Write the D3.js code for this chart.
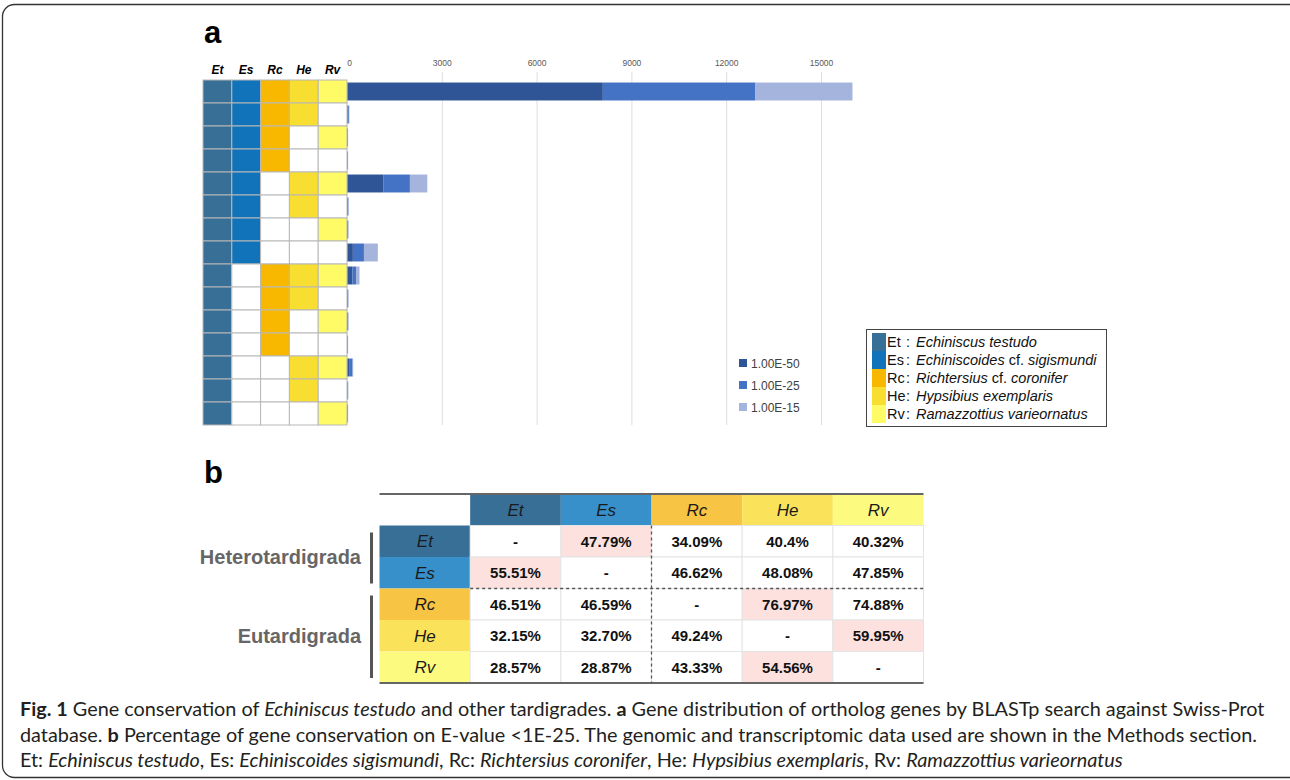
<!DOCTYPE html>
<html>
<head>
<meta charset="utf-8">
<script src="https://cdn.jsdelivr.net/npm/d3@7"></script>
<style>
  body { margin: 0; background: #fff; }
  svg { display: block; }
</style>
</head>
<body>
<script>
// species shown in the presence matrix, the legend and the table
const species = ["Et", "Es", "Rc", "He", "Rv"];
const speciesNames = ["Echiniscus testudo", "Echiniscoides cf. sigismundi", "Richtersius cf. coronifer",
  "Hypsibius exemplaris", "Ramazzottius varieornatus"];
// which species share the ortholog group in each row (1 = present)
const presence = [
  [1, 1, 1, 1, 1], [1, 1, 1, 1, 0], [1, 1, 1, 0, 1], [1, 1, 1, 0, 0],
  [1, 1, 0, 1, 1], [1, 1, 0, 1, 0], [1, 1, 0, 0, 1], [1, 1, 0, 0, 0],
  [1, 0, 1, 1, 1], [1, 0, 1, 1, 0], [1, 0, 1, 0, 1], [1, 0, 1, 0, 0],
  [1, 0, 0, 1, 1], [1, 0, 0, 1, 0], [1, 0, 0, 0, 1]
];
// gene counts per row, stacked by E-value threshold
const thresholds = ["1.00E-50", "1.00E-25", "1.00E-15"];
const e50 = [8080, 30, 10, 10, 1130, 20, 15, 170, 160, 15, 15, 10, 70, 10, 10];
const e25 = [4830, 20, 5, 5, 845, 10, 10, 350, 110, 10, 10, 5, 90, 10, 5];
const e15 = [3070, 10, 5, 5, 550, 10, 5, 440, 110, 5, 5, 5, 20, 5, 5];
const xTicks = [0, 3000, 6000, 9000, 12000, 15000];

// panel b
const groups = ["Heterotardigrada", "Eutardigrada"];
const conservation = [
  ["-", "47.79%", "34.09%", "40.4%", "40.32%"],
  ["55.51%", "-", "46.62%", "48.08%", "47.85%"],
  ["46.51%", "46.59%", "-", "76.97%", "74.88%"],
  ["32.15%", "32.70%", "49.24%", "-", "59.95%"],
  ["28.57%", "28.87%", "43.33%", "54.56%", "-"]
];
const highlighted = [[0, 1], [1, 0], [2, 3], [3, 4], [4, 3]];

const matrixColors = ["#386f96", "#1174bb", "#f8b800", "#f8de30", "#fefb66"];
const tableColors = ["#386f97", "#3890cb", "#f8c443", "#fae35b", "#fdfa80"];
const barColors = ["#2f5597", "#4472c4", "#a5b4dc"];

const W = 1290, H = 780;
const svg = d3.select("body").append("svg")
  .attr("width", W)
  .attr("height", H)
  .style("font-family", "'Liberation Sans', Arial, sans-serif");

// outer frame
svg.append("rect")
  .attr("x", 2.5).attr("y", 4.5)
  .attr("width", 1310).attr("height", 773)
  .attr("rx", 12)
  .attr("fill", "none")
  .attr("stroke", "#333")
  .attr("stroke-width", 1.3);

// ---------- panel a ----------
svg.append("text").attr("x", 204).attr("y", 43)
  .style("font-size", "31px").style("font-weight", "bold").text("a");

const rowScale = d3.scaleBand()
  .domain(d3.range(presence.length))
  .range([80, 425]);
const colScale = d3.scaleBand()
  .domain(species)
  .range([203, 347]);
const xScale = d3.scaleLinear()
  .domain([0, 16000])
  .range([347.5, 347.5 + 16000 * 0.0316]);

// grid lines and tick labels
svg.append("g").selectAll("line")
  .data(xTicks.slice(1))
  .enter().append("line")
  .attr("x1", d => xScale(d)).attr("x2", d => xScale(d))
  .attr("y1", 72).attr("y2", 425)
  .attr("stroke", "#dedede");

svg.append("g").selectAll("text")
  .data(xTicks)
  .enter().append("text")
  .attr("x", d => xScale(d) + (d === 0 ? 2 : 0))
  .attr("y", 66)
  .attr("text-anchor", "middle")
  .style("font-size", "8.5px")
  .attr("fill", "#595959")
  .text(d => d);

// column headers
svg.append("g").selectAll("text")
  .data(species)
  .enter().append("text")
  .attr("x", d => colScale(d) + colScale.bandwidth() / 2)
  .attr("y", 74)
  .attr("text-anchor", "middle")
  .style("font-size", "12px")
  .style("font-weight", "bold")
  .style("font-style", "italic")
  .text(d => d);

// presence matrix
const cells = presence.flatMap((row, r) => row.map((v, c) => ({ r, c, v })));
svg.append("g").selectAll("rect")
  .data(cells)
  .enter().append("rect")
  .attr("x", d => colScale(species[d.c]))
  .attr("y", d => rowScale(d.r))
  .attr("width", colScale.bandwidth())
  .attr("height", rowScale.bandwidth())
  .attr("fill", d => d.v ? matrixColors[d.c] : "#fff")
  .attr("stroke", "#b8b8b8")
  .attr("stroke-width", 1);

// stacked bars
const barRows = e50.map((v, i) => ({ i, e50: v, e25: e25[i], e15: e15[i] }));
const stacked = d3.stack().keys(["e50", "e25", "e15"])(barRows);
const barScale = d3.scaleBand()
  .domain(d3.range(presence.length))
  .range([80, 425])
  .paddingInner(0.22)
  .paddingOuter(0.11);

svg.append("g").selectAll("g")
  .data(stacked)
  .enter().append("g")
  .attr("fill", (d, k) => barColors[k])
  .selectAll("rect")
  .data(d => d)
  .enter().append("rect")
  .attr("x", d => xScale(d[0]))
  .attr("y", d => barScale(d.data.i))
  .attr("width", d => xScale(d[1]) - xScale(d[0]))
  .attr("height", barScale.bandwidth());

// E-value legend
const evLegend = svg.append("g").selectAll("g")
  .data(thresholds)
  .enter().append("g")
  .attr("transform", (d, i) => `translate(739, ${363 + i * 22})`);
evLegend.append("rect")
  .attr("x", 0).attr("y", -4)
  .attr("width", 8).attr("height", 8)
  .attr("fill", (d, i) => barColors[i]);
evLegend.append("text")
  .attr("x", 12).attr("y", 4.5)
  .style("font-size", "12px")
  .attr("fill", "#404040")
  .text(d => d);

// species legend
svg.append("rect")
  .attr("x", 866.5).attr("y", 329.5)
  .attr("width", 240).attr("height", 97)
  .attr("fill", "#fff")
  .attr("stroke", "#444");

const spLegend = svg.append("g").selectAll("g")
  .data(species)
  .enter().append("g")
  .attr("transform", (d, i) => `translate(872, ${333 + i * 18})`);
spLegend.append("rect")
  .attr("width", 14).attr("height", 18)
  .attr("fill", (d, i) => matrixColors[i]);
const spText = spLegend.append("text")
  .attr("x", 15).attr("y", 14)
  .style("font-size", "14.5px")
  .attr("fill", "#111");
spText.append("tspan").text(d => d);
spText.append("tspan").attr("x", 34).text(":");
spText.each(function (d, i) {
  const parts = speciesNames[i].split(" cf. ");
  const t = d3.select(this);
  t.append("tspan").attr("x", 44).style("font-style", "italic").text(parts[0]);
  if (parts.length > 1) {
    t.append("tspan").text(" cf. ");
    t.append("tspan").style("font-style", "italic").text(parts[1]);
  }
});

// ---------- panel b ----------
svg.append("text").attr("x", 204).attr("y", 483)
  .style("font-size", "31px").style("font-weight", "bold").text("b");

const tCol = d3.scaleBand().domain(d3.range(6)).range([379.5, 923.5]);
const tRow = d3.scaleBand().domain(d3.range(6)).range([494, 683]);
const cw = tCol.bandwidth(), ch = tRow.bandwidth();

// header row and row labels
const hdr = svg.append("g");
hdr.selectAll("rect.h")
  .data(species)
  .enter().append("rect")
  .attr("x", (d, i) => tCol(i + 1)).attr("y", tRow(0))
  .attr("width", cw).attr("height", ch)
  .attr("fill", (d, i) => tableColors[i]);
hdr.selectAll("rect.r")
  .data(species)
  .enter().append("rect")
  .attr("x", tCol(0)).attr("y", (d, i) => tRow(i + 1))
  .attr("width", cw).attr("height", ch)
  .attr("fill", (d, i) => tableColors[i]);
hdr.selectAll("text.h")
  .data(species)
  .enter().append("text")
  .attr("x", (d, i) => tCol(i + 1) + cw / 2).attr("y", tRow(0) + ch / 2 + 6)
  .attr("text-anchor", "middle")
  .style("font-size", "17px").style("font-style", "italic")
  .attr("fill", "#1a1a1a")
  .text(d => d);
hdr.selectAll("text.r")
  .data(species)
  .enter().append("text")
  .attr("x", tCol(0) + cw / 2).attr("y", (d, i) => tRow(i + 1) + ch / 2 + 6)
  .attr("text-anchor", "middle")
  .style("font-size", "17px").style("font-style", "italic")
  .attr("fill", "#1a1a1a")
  .text(d => d);

// value cells
const vals = conservation.flatMap((row, r) => row.map((v, c) => ({ r, c, v })));
const isHi = d => highlighted.some(h => h[0] === d.r && h[1] === d.c);
const body = svg.append("g");
body.selectAll("rect")
  .data(vals)
  .enter().append("rect")
  .attr("x", d => tCol(d.c + 1)).attr("y", d => tRow(d.r + 1))
  .attr("width", cw).attr("height", ch)
  .attr("fill", d => isHi(d) ? "#fce1de" : "#fff")
  .attr("stroke", "#e4e4e4")
  .attr("stroke-width", 1);
body.selectAll("text")
  .data(vals)
  .enter().append("text")
  .attr("x", d => tCol(d.c + 1) + cw / 2).attr("y", d => tRow(d.r + 1) + ch / 2 + 5.5)
  .attr("text-anchor", "middle")
  .style("font-size", "15px").style("font-weight", "bold")
  .attr("fill", "#111")
  .text(d => d.v);

// table rules
svg.append("line")
  .attr("x1", 379.5).attr("x2", 923.5).attr("y1", 494).attr("y2", 494)
  .attr("stroke", "#666").attr("stroke-width", 2);
svg.append("line")
  .attr("x1", 379.5).attr("x2", 923.5).attr("y1", 683).attr("y2", 683)
  .attr("stroke", "#666").attr("stroke-width", 2);
svg.append("line")
  .attr("x1", tCol(1)).attr("x2", 923.5).attr("y1", tRow(3)).attr("y2", tRow(3))
  .attr("stroke", "#555").attr("stroke-width", 1.3).attr("stroke-dasharray", "3,3");
svg.append("line")
  .attr("x1", tCol(3)).attr("x2", tCol(3)).attr("y1", tRow(1)).attr("y2", 683)
  .attr("stroke", "#555").attr("stroke-width", 1.3).attr("stroke-dasharray", "3,3");

// group labels with brackets
const groupSpans = [[1, 3], [3, 6]];
groups.forEach((g, i) => {
  const y0 = tRow(groupSpans[i][0]), y1 = groupSpans[i][1] < 6 ? tRow(groupSpans[i][1]) : 683;
  svg.append("line")
    .attr("x1", 371.5).attr("x2", 371.5)
    .attr("y1", y0 + 7).attr("y2", y1 - 5)
    .attr("stroke", "#555").attr("stroke-width", 3);
  svg.append("text")
    .attr("x", 361).attr("y", (y0 + y1) / 2 + 7)
    .attr("text-anchor", "end")
    .style("font-size", "20px").style("font-weight", "bold")
    .attr("fill", "#666")
    .text(g);
});

// ---------- caption ----------
const captionLines = [
  [["Fig. 1", "b"], [" Gene conservation of ", "n"], ["Echiniscus testudo", "i"], [" and other tardigrades. ", "n"],
   ["a", "b"], [" Gene distribution of ortholog genes by BLASTp search against Swiss-Prot", "n"]],
  [["database. ", "n"], ["b", "b"], [" Percentage of gene conservation on E-value <1E-25. The genomic and transcriptomic data used are shown in the Methods section.", "n"]],
  [["Et: ", "n"], ["Echiniscus testudo", "i"], [", Es: ", "n"], ["Echiniscoides sigismundi", "i"], [", Rc: ", "n"],
   ["Richtersius coronifer", "i"], [", He: ", "n"], ["Hypsibius exemplaris", "i"], [", Rv: ", "n"], ["Ramazzottius varieornatus", "i"]]
];
const capBase = [716, 742, 767];
const capTexts = captionLines.map((line, li) => {
  const t = svg.append("text")
    .attr("x", 20).attr("y", capBase[li])
    .style("font-family", "Lato, 'Open Sans', sans-serif")
    .style("font-size", "17px")
    .attr("fill", "#231f20");
  line.forEach(([s, f]) => {
    t.append("tspan")
      .style("font-weight", f === "b" ? "bold" : "normal")
      .style("font-style", f === "i" ? "italic" : "normal")
      .text(s);
  });
  return t;
});
// fit the first line to the width of the reference caption
const w0 = capTexts[0].node().getComputedTextLength();
const fs = 17 * 1245 / w0;
capTexts.forEach(t => t.style("font-size", fs + "px"));
</script>
</body>
</html>
